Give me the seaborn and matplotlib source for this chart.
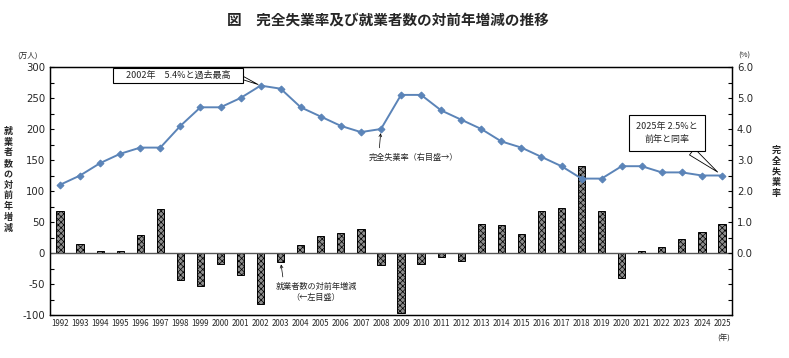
import numpy as np
import pandas as pd
import seaborn as sns
import matplotlib.pyplot as plt

# %% data
years = list(range(1992, 2026))
emp_change = [67, 14, 3, 4, 29, 71, -44, -53, -17, -35, -83, -14, 13, 27, 33, 38, -19, -96,
              -17, -6, -13, 46, 45, 31, 68, 72, 140, 68, -40, 3, 10, 23, 34, 47]
unemp_rate = [2.2, 2.5, 2.9, 3.2, 3.4, 3.4, 4.1, 4.7, 4.7, 5.0, 5.4, 5.3, 4.7, 4.4, 4.1, 3.9, 4.0, 5.1,
              5.1, 4.6, 4.3, 4.0, 3.6, 3.4, 3.1, 2.8, 2.4, 2.4, 2.8, 2.8, 2.6, 2.6, 2.5, 2.5]
left_ticks = [300, 250, 200, 150, 100, 50, 0, -50, -100]
right_ticks = [6.0, 5.0, 4.0, 3.0, 2.0, 1.0, 0.0]

df = pd.DataFrame({'year': [str(y) for y in years], 'pos': np.arange(len(years)),
                   'emp': emp_change, 'rate': unemp_rate})

# %% style
sns.set_theme(style="white")
plt.rcParams['font.family'] = ['Noto Sans CJK JP', 'DejaVu Sans']
plt.rcParams['hatch.color'] = '#666666'
plt.rcParams['hatch.linewidth'] = 0.5

fig = plt.figure(figsize=(7.89, 3.58), dpi=100)
ax = fig.add_axes([50 / 789, 1 - 315 / 358, (732 - 50) / 789, (315 - 67) / 358])

sns.barplot(data=df, x='year', y='emp', ax=ax, color='#8e8e8e', width=0.36,
            edgecolor='black', linewidth=0.7, saturation=1)
for p in ax.patches:
    p.set_hatch('xxxxxx')

ax.axhline(0, color='#555555', lw=1.0, zorder=1)
ax.set_xlim(-0.5, len(years) - 0.5)
ax.set_ylim(-100, 300)
ax.set_yticks(left_ticks)
ax.set_yticks(np.arange(-100, 301, 25), minor=True)
ax.set_yticklabels([str(t) for t in left_ticks], fontsize=7.3, family='DejaVu Sans')
ax.tick_params(axis='y', which='both', direction='in', length=3, width=0.8, left=True, color='black')
ax.tick_params(axis='x', length=0, labelsize=5.7, pad=3)
ax.set_xlabel('')
ax.set_ylabel('')
for s in ax.spines.values():
    s.set_color('black')
    s.set_linewidth(0.9)

ax2 = ax.twinx()
sns.lineplot(data=df, x='pos', y='rate', ax=ax2, color='#5b84b8', lw=1.4,
             marker='D', markersize=3.5, markeredgecolor='#5b84b8')
ax2.set_ylim(-2, 6)
ax2.set_yticks(right_ticks)
ax2.set_yticks(np.arange(-2, 6.01, 0.5), minor=True)
ax2.set_yticklabels([f'{t:.1f}' for t in right_ticks], fontsize=7.3, family='DejaVu Sans')
ax2.tick_params(axis='y', which='both', direction='in', length=3, width=0.8, right=True, color='black')
ax2.set_xlabel('')
ax2.set_ylabel('')
for s in ax2.spines.values():
    s.set_color('black')
    s.set_linewidth(0.9)

# %% texts
fig.text(388 / 789, 1 - 20 / 358, '図　完全失業率及び就業者数の対前年増減の推移',
         ha='center', va='center', fontsize=10.5, fontweight='bold')
fig.text(28 / 789, 1 - 56 / 358, '(万人)', ha='center', va='center', fontsize=5.5)
fig.text(744 / 789, 1 - 56 / 358, '(%)', ha='center', va='center', fontsize=5.5)
fig.text(724 / 789, 1 - 339 / 358, '(年)', ha='center', va='center', fontsize=5.5)
fig.text(8 / 789, 1 - 180 / 358, '\n'.join('就業者数の対前年増減'), ha='center', va='center',
         fontsize=6.5, fontweight='bold', linespacing=1.25)
fig.text(776 / 789, 1 - 172 / 358, '\n'.join('完全失業率'), ha='center', va='center',
         fontsize=6.5, fontweight='bold', linespacing=1.25)

i02 = years.index(2002)
ax2.annotate('     2002年　5.4%と過去最高     ', xy=(i02, unemp_rate[i02]), xycoords='data',
             xytext=(178, 358 - 75.5), textcoords='figure pixels', ha='center', va='center',
             fontsize=6.5,
             bbox=dict(boxstyle='square,pad=0.3', fc='white', ec='black', lw=0.8),
             arrowprops=dict(arrowstyle='wedge,tail_width=0.35', fc='white', ec='black', lw=0.6,
                             relpos=(1.0, 0.35), shrinkA=0, shrinkB=2))

i25 = years.index(2025)
ax2.annotate('2025年 2.5%と\n前年と同率', xy=(i25, unemp_rate[i25]), xycoords='data',
             xytext=(667, 358 - 133), textcoords='figure pixels', ha='center', va='center',
             fontsize=6.5, linespacing=1.6,
             bbox=dict(boxstyle='square,pad=0.8', fc='white', ec='black', lw=0.8),
             arrowprops=dict(arrowstyle='wedge,tail_width=0.9', fc='white', ec='black', lw=0.6,
                             relpos=(0.75, 0.0), shrinkA=0, shrinkB=4))

i08 = years.index(2008)
ax2.annotate('完全失業率（右目盛→）', xy=(i08, unemp_rate[i08]), xycoords='data',
             xytext=(413, 358 - 157), textcoords='figure pixels', ha='center', va='center',
             fontsize=5.9,
             arrowprops=dict(arrowstyle='->', color='black', lw=0.5, relpos=(0.12, 1.0),
                             shrinkA=1, shrinkB=3, mutation_scale=5))

i03 = years.index(2003)
ax.annotate('就業者数の対前年増減\n（←左目盛）', xy=(i03, emp_change[i03]), xycoords='data',
            xytext=(316, 358 - 292), textcoords='figure pixels', ha='center', va='center',
            fontsize=5.9, linespacing=1.4,
            arrowprops=dict(arrowstyle='->', color='black', lw=0.5, relpos=(0.1, 1.0),
                            shrinkA=1, shrinkB=2, mutation_scale=5))

fig.savefig('out.png', dpi=100)
